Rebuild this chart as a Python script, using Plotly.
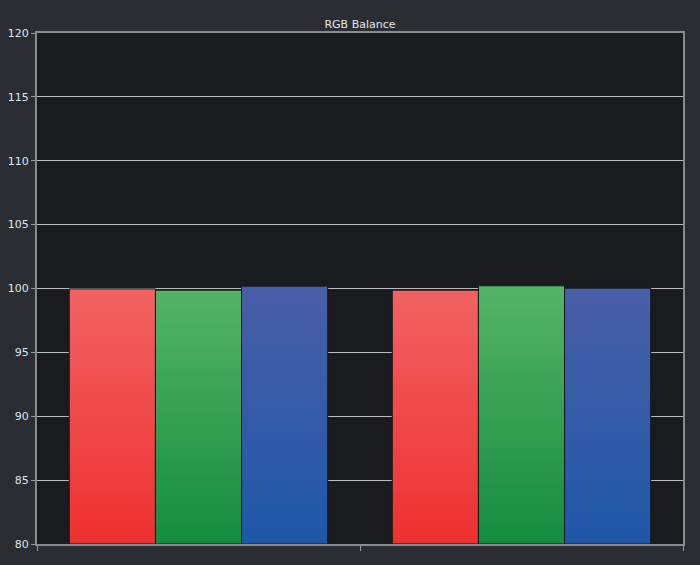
import plotly.graph_objects as go

categories = ["Group 1", "Group 2"]
red_values = [99.97, 99.87]
green_values = [99.87, 100.21]
blue_values = [100.18, 100.02]
y_ticks = [80, 85, 90, 95, 100, 105, 110, 115, 120]

series = [
    ("Red", red_values, (0xF2, 0x62, 0x62), (0xEE, 0x30, 0x30)),
    ("Green", green_values, (0x55, 0xB4, 0x66), (0x14, 0x8C, 0x3E)),
    ("Blue", blue_values, (0x4A, 0x5E, 0xA8), (0x1E, 0x58, 0xA8)),
]

BASE = 80
N = 40

fig = go.Figure()
for name, vals, top, bot in series:
    xs, ys, bs, cs = [], [], [], []
    for cat, v in zip(categories, vals):
        h = (v - BASE) / N
        for k in range(N):
            t = (k + 0.5) / N  # 0 bottom -> 1 top
            c = tuple(int(round(bot[i] + (top[i] - bot[i]) * t)) for i in range(3))
            xs.append(cat)
            bs.append(BASE + k * h)
            ys.append(h * 2 if k < N - 1 else h)
            cs.append("rgb(%d,%d,%d)" % c)
    fig.add_trace(go.Bar(x=xs, y=ys, base=bs, marker=dict(color=cs, line=dict(width=0)),
                         offsetgroup=name, showlegend=False, hoverinfo="skip"))
    fig.add_trace(go.Bar(x=categories, y=[v - BASE for v in vals], base=[BASE] * len(vals),
                         marker=dict(color="rgba(0,0,0,0)", line=dict(color="#15171a", width=1)),
                         offsetgroup=name, showlegend=False, name=name))

fig.update_layout(
    width=700, height=565,
    margin=dict(l=37, r=17, t=33, b=21),
    paper_bgcolor="#2a2d31",
    plot_bgcolor="#191b1f",
    barmode="group",
    bargap=0.2,
    bargroupgap=0,
    title=dict(text="RGB Balance", x=0.5, xref="paper", xanchor="center",
               y=1 - 24 / 565, yref="container", yanchor="middle",
               font=dict(family="DejaVu Sans", size=11, color="#e6e6e6")),
    font=dict(family="DejaVu Sans", size=11, color="#dde6f0"),
)
fig.update_xaxes(
    type="category", tickson="boundaries", showticklabels=False,
    ticks="outside", ticklen=5, tickcolor="#9a9a9a",
    showline=True, linecolor="#8a8a8a", linewidth=2, mirror=True,
    showgrid=False, zeroline=False, automargin=False,
)
fig.update_yaxes(
    range=[80, 120], tickvals=y_ticks, ticks="outside", ticklen=4, tickcolor="#9a9a9a",
    showline=True, linecolor="#8a8a8a", linewidth=2, mirror=True,
    showgrid=True, gridcolor="#bcbcbc", gridwidth=1, zeroline=False, automargin=False,
    tickfont=dict(size=11, color="#dde6f0"),
)

fig.write_html("out.html", config={"displayModeBar": False},
               post_script="document.body.style.margin='0';document.body.style.background='#2a2d31';")
